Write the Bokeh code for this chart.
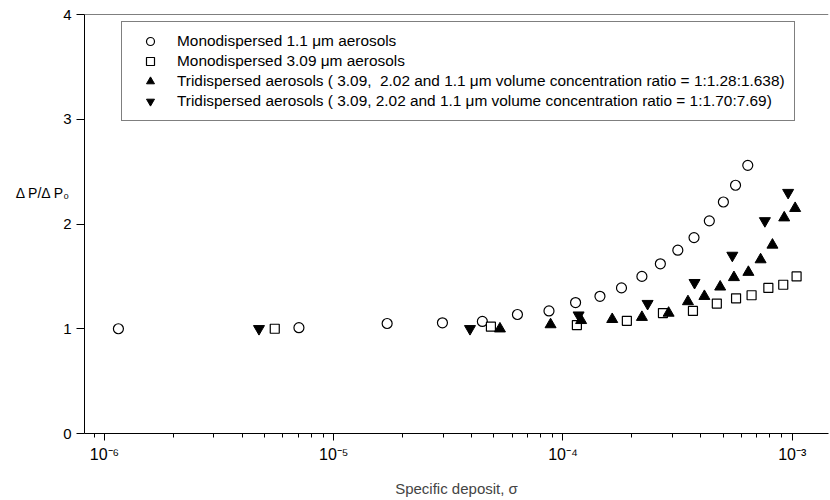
from bokeh.plotting import figure
from bokeh.models import (Range1d, Legend, LegendItem, Span, CustomJSTickFormatter, LogTicker,
                          FixedTicker, LinearAxis)
from bokeh.embed import file_html
from bokeh.resources import INLINE

# Monodispersed 1.1 um aerosols (open circles)
c_x = [1.15e-6, 7.05e-6, 1.71e-5, 2.98e-5, 4.45e-5, 6.33e-5, 8.69e-5, 1.135e-4, 1.45e-4,
       1.80e-4, 2.21e-4, 2.66e-4, 3.17e-4, 3.73e-4, 4.35e-4, 5.01e-4, 5.66e-4, 6.40e-4]
c_y = [1.00, 1.01, 1.05, 1.057, 1.07, 1.136, 1.17, 1.25, 1.31,
       1.39, 1.50, 1.62, 1.75, 1.87, 2.03, 2.21, 2.37, 2.56]

# Monodispersed 3.09 um aerosols (open squares)
s_x = [5.53e-6, 4.85e-5, 1.15e-4, 1.90e-4, 2.73e-4, 3.69e-4, 4.69e-4, 5.69e-4, 6.65e-4,
       7.87e-4, 9.14e-4, 1.045e-3]
s_y = [1.00, 1.02, 1.035, 1.076, 1.15, 1.17, 1.24, 1.29, 1.32, 1.39, 1.42, 1.50]

# Tridispersed 1:1.28:1.638 (filled up triangles)
u_x = [5.31e-5, 8.83e-5, 1.20e-4, 1.64e-4, 2.21e-4, 2.89e-4, 3.51e-4, 4.14e-4, 4.85e-4,
       5.57e-4, 6.44e-4, 7.28e-4, 8.20e-4, 9.23e-4, 1.03e-3]
u_y = [1.00, 1.04, 1.08, 1.09, 1.11, 1.15, 1.26, 1.31, 1.40, 1.49, 1.54, 1.66, 1.80, 2.06, 2.15]

# Tridispersed 1:1.70:7.69 (filled down triangles)
d_x = [4.72e-6, 3.93e-5, 1.17e-4, 2.34e-4, 3.75e-4, 5.48e-4, 7.60e-4, 9.60e-4]
d_y = [1.00, 1.00, 1.13, 1.24, 1.44, 1.70, 2.03, 2.30]

legend_labels = [
    "Monodispersed 1.1 \u03bcm aerosols",
    "Monodispersed 3.09 \u03bcm aerosols",
    "Tridispersed aerosols ( 3.09,  2.02 and 1.1 \u03bcm volume concentration ratio = 1:1.28:1.638)",
    "Tridispersed aerosols ( 3.09, 2.02 and 1.1 \u03bcm volume concentration ratio = 1:1.70:7.69)",
]
y_ticks = [0, 1, 2, 3, 4]
x_label = "Specific deposit, \u03c3"
y_label = "\u0394 P/\u0394 P\u2080"

FONT = "Liberation Sans"

p = figure(width=830, height=500, x_axis_type="log",
           x_range=Range1d(8.18e-7, 1.44e-3), y_range=Range1d(0, 4),
           output_backend="svg", toolbar_location=None,
           min_border_left=84, min_border_right=2, min_border_top=14, min_border_bottom=67)
p.grid.visible = False
p.outline_line_color = None
p.background_fill_color = "white"
p.border_fill_color = "white"

# axes
xa = p.xaxis[0]
xa.ticker = LogTicker(num_minor_ticks=10)
xa.formatter = CustomJSTickFormatter(code="""
const e = Math.round(Math.log10(tick));
const sup = {'-':'\u207b','0':'\u2070','1':'\u00b9','2':'\u00b2','3':'\u00b3','4':'\u2074','5':'\u2075','6':'\u2076','7':'\u2077','8':'\u2078','9':'\u2079'};
return '10' + String(e).split('').map(c => sup[c]).join('');
""")
xa.axis_label = x_label
xa.axis_label_text_font = FONT
xa.axis_label_text_font_style = "normal"
xa.axis_label_text_font_size = "15px"
xa.axis_label_standoff = 14
xa.major_label_text_font = FONT
xa.major_label_text_font_size = "16px"
xa.major_label_standoff = 5
xa.major_tick_out = 7
xa.major_tick_in = 0
xa.minor_tick_out = 4
xa.minor_tick_in = 0
xa.axis_line_color = "black"
xa.major_tick_line_color = "black"
xa.minor_tick_line_color = "black"
xa.major_label_text_color = "black"

ya = p.yaxis[0]
ya.ticker = FixedTicker(ticks=y_ticks)
ya.major_label_text_font = FONT
ya.major_label_text_font_size = "15px"
ya.major_label_standoff = 5
ya.major_tick_out = 8
ya.major_tick_in = 0
ya.minor_tick_line_color = None
ya.axis_line_color = "black"
ya.major_tick_line_color = "black"
ya.major_label_text_color = "black"

# horizontal y-axis title, drawn as the single tick label of an extra (invisible) left axis
title_axis = LinearAxis(ticker=FixedTicker(ticks=[2.3]),
                        formatter=CustomJSTickFormatter(code="return %r;" % y_label))
title_axis.axis_line_color = None
title_axis.major_tick_line_color = None
title_axis.minor_tick_line_color = None
title_axis.major_tick_out = 0
title_axis.major_tick_in = 0
title_axis.major_label_standoff = -10
title_axis.major_label_text_font = FONT
title_axis.major_label_text_font_size = "14px"
title_axis.major_label_text_color = "black"
p.add_layout(title_axis, "left")

# top border line
p.add_layout(Span(location=4, dimension="width", line_color="black", line_width=1))

r_c = p.scatter(c_x, c_y, marker="circle", size=10, fill_color="white", line_color="black", line_width=1.2)
r_s = p.scatter(s_x, s_y, marker="square", size=9, fill_color="white", line_color="black", line_width=1.2)
r_u = p.scatter(u_x, u_y, marker="triangle", size=11, fill_color="black", line_color="black")
r_d = p.scatter(d_x, d_y, marker="inverted_triangle", size=11, fill_color="black", line_color="black")

legend = Legend(items=[LegendItem(label=legend_labels[0], renderers=[r_c]),
                       LegendItem(label=legend_labels[1], renderers=[r_s]),
                       LegendItem(label=legend_labels[2], renderers=[r_u]),
                       LegendItem(label=legend_labels[3], renderers=[r_d])],
                location=(37, 312), orientation="vertical")
legend.border_line_color = "black"
legend.border_line_width = 1
legend.background_fill_color = "white"
legend.background_fill_alpha = 1
legend.padding = 9
legend.margin = 0
legend.spacing = 0
legend.glyph_width = 38
legend.glyph_height = 20
legend.label_height = 20
legend.label_standoff = 8
legend.label_text_font = FONT
legend.label_text_font_size = "15.4px"
legend.label_text_color = "black"
p.add_layout(legend)

open("out.html", "w").write(file_html(p, INLINE))
